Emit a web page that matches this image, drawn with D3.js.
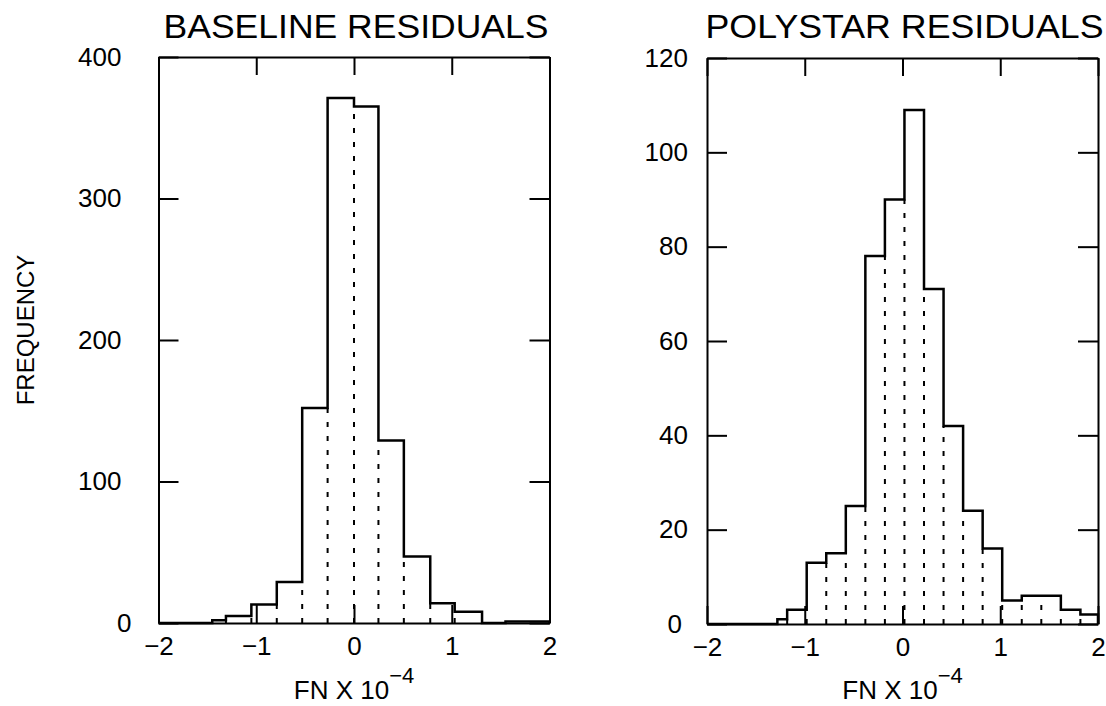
<!DOCTYPE html>
<html lang="en">
<head>
    <meta charset="utf-8">
    <title>Residual histograms</title>
    <script src="https://d3js.org/d3.v7.min.js"></script>
    <style>
        html, body {
            margin: 0;
            padding: 0;
            background: #fff;
        }
        text {
            font-family: "Liberation Sans", Arial, sans-serif;
            fill: #000;
        }
        .frame path.domain { stroke: #000; stroke-width: 2px; }
        .frame line { stroke: #000; stroke-width: 2px; }
        path.step { fill: none; stroke: #000; stroke-width: 2.5px; }
        line.inner { stroke: #000; stroke-width: 2px; stroke-dasharray: 5,9; }
    </style>
</head>
<body>
<script type="text/javascript">

    // bin edges (FN x 10^-4) and counts
    var baseEdges = [-2, -1.45, -1.31, -1.05, -0.79, -0.53, -0.27, 0, 0.25, 0.51, 0.78, 1.03, 1.31, 1.55, 2];
    var baseCounts = [0, 2, 5, 13, 29, 152, 371, 365, 129, 47, 14, 8, 0, 1];

    var polyEdges = [-2, -1.28, -1.18, -0.98, -0.78, -0.58, -0.38, -0.18, 0.02, 0.22, 0.42, 0.62, 0.82, 1.02, 1.22, 1.42, 1.62, 1.82, 2];
    var polyCounts = [0, 1, 3, 13, 15, 25, 78, 90, 109, 71, 42, 24, 16, 5, 6, 6, 3, 2];

    var xTicks = [-2, -1, 0, 1, 2];
    var baseYTicks = [0, 100, 200, 300, 400];
    var polyYTicks = [0, 20, 40, 60, 80, 100, 120];

    var w = 1106, h = 706;

    var panels = [
        {title: "BASELINE RESIDUALS", edges: baseEdges, counts: baseCounts, yMax: 400, yTicks: baseYTicks,
         left: 158.5, right: 549.5, top: 57, bottom: 623, labelGap: 37, zeroShift: 10, titleLen: 385},
        {title: "POLYSTAR RESIDUALS", edges: polyEdges, counts: polyCounts, yMax: 120, yTicks: polyYTicks,
         left: 707, right: 1098, top: 58, bottom: 624, labelGap: 19, zeroShift: -6, titleLen: 398}
    ];

    var svg = d3.select("body")
        .append("svg")
        .attr("width", w)
        .attr("height", h);

    panels.forEach(function(p) {
        var xScale = d3.scaleLinear().domain([-2, 2]).range([p.left, p.right]);
        var yScale = d3.scaleLinear().domain([0, p.yMax]).range([p.bottom, p.top]);

        // frame with inward ticks
        svg.append("g")
            .attr("class", "frame")
            .attr("transform", "translate(0," + p.bottom + ")")
            .call(d3.axisBottom(xScale).tickValues(xTicks).tickFormat(d3.format("d"))
                .tickSizeInner(-18).tickSizeOuter(0).tickPadding(14))
            .call(function(g) {
                g.selectAll("text").attr("font-size", 26).attr("font-family", "Liberation Sans");
            });

        svg.append("g")
            .attr("class", "frame")
            .attr("transform", "translate(0," + p.top + ")")
            .call(d3.axisTop(xScale).tickValues(xTicks).tickFormat("").tickSizeInner(-18).tickSizeOuter(0));

        svg.append("g")
            .attr("class", "frame")
            .attr("transform", "translate(" + p.left + ",0)")
            .call(d3.axisLeft(yScale).tickValues(p.yTicks).tickSizeInner(-20).tickSizeOuter(0).tickPadding(p.labelGap))
            .call(function(g) {
                g.selectAll("text")
                    .attr("font-size", 26)
                    .attr("font-family", "Liberation Sans")
                    .attr("dx", function(d) { return d === 0 ? p.zeroShift : 0; });
            });

        svg.append("g")
            .attr("class", "frame")
            .attr("transform", "translate(" + p.right + ",0)")
            .call(d3.axisRight(yScale).tickValues(p.yTicks).tickFormat("").tickSizeInner(-20).tickSizeOuter(0));

        // step outline
        var pts = [[p.edges[0], 0]];
        p.counts.forEach(function(c, i) {
            pts.push([p.edges[i], c]);
            pts.push([p.edges[i + 1], c]);
        });
        pts.push([p.edges[p.edges.length - 1], 0]);

        var line = d3.line()
            .x(function(d) { return xScale(d[0]); })
            .y(function(d) { return yScale(d[1]); });

        svg.append("path")
            .datum(pts)
            .attr("class", "step")
            .attr("d", line);

        // dotted bin dividers
        var inner = [];
        for (var i = 1; i < p.counts.length; i++) {
            var m = Math.min(p.counts[i - 1], p.counts[i]);
            if (m > 0) inner.push({x: p.edges[i], c: m});
        }
        svg.selectAll(null)
            .data(inner)
            .enter()
            .append("line")
            .attr("class", "inner")
            .attr("x1", function(d) { return xScale(d.x); })
            .attr("x2", function(d) { return xScale(d.x); })
            .attr("y1", yScale(0))
            .attr("y2", function(d) { return yScale(d.c); });

        // title
        svg.append("text")
            .attr("x", (p.left + p.right) / 2 + 2)
            .attr("y", 38)
            .attr("text-anchor", "middle")
            .attr("font-size", 33)
            .attr("textLength", p.titleLen)
            .attr("lengthAdjust", "spacingAndGlyphs")
            .text(p.title);

        // x label
        var xl = svg.append("text")
            .attr("x", (p.left + p.right) / 2)
            .attr("y", 699)
            .attr("text-anchor", "middle")
            .attr("font-size", 26);
        xl.append("tspan").text("FN X 10");
        xl.append("tspan").attr("dy", -16).attr("font-size", 22).text("\u22124");
    });

    // y label
    svg.append("text")
        .attr("transform", "translate(34,330) rotate(-90)")
        .attr("text-anchor", "middle")
        .attr("font-size", 24)
        .text("FREQUENCY");

</script>
</body>
</html>
